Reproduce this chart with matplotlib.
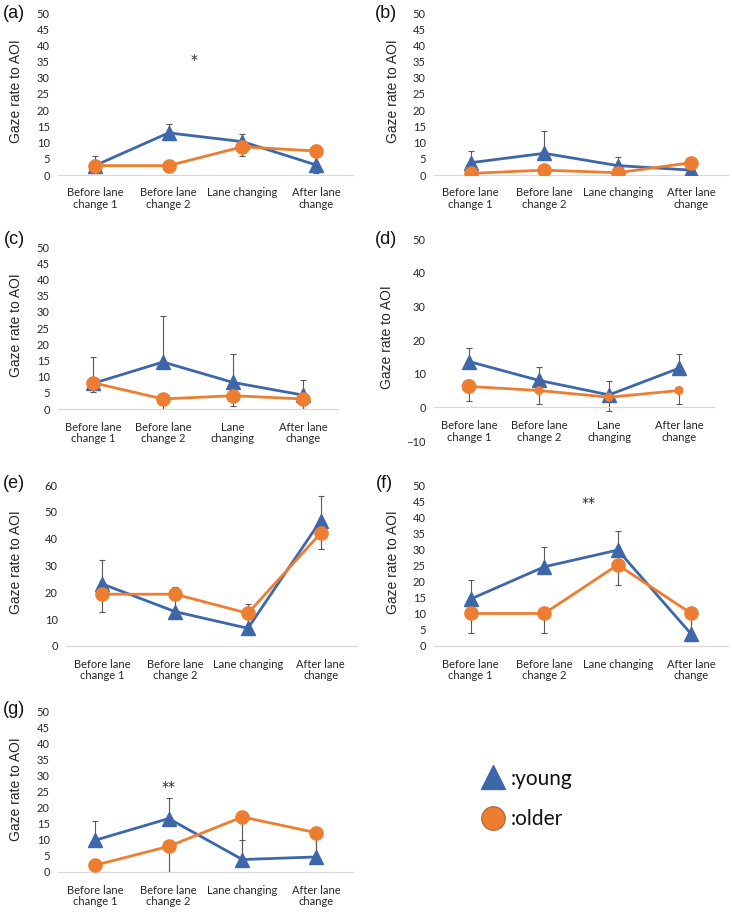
import numpy as np
import matplotlib
matplotlib.use("Agg")
import matplotlib.pyplot as plt
from matplotlib.lines import Line2D

W, H = 732, 913

# category labels (two versions used in the figure)
labels_wide = ["Before lane\nchange 1", "Before lane\nchange 2", "Lane changing", "After lane\nchange"]
labels_narrow = ["Before lane\nchange 1", "Before lane\nchange 2", "Lane\nchanging", "After lane\nchange"]

# young error bars only point up, older error bars only point down
# (a)
young_a = [2.9, 13.0, 10.3, 3.1]
young_err_a = [3.0, 2.7, 2.5, 6.1]
older_a = [2.9, 2.9, 8.7, 7.4]
older_err_a = [2.2, 0.0, 2.8, 6.7]
# (b)
young_b = [3.8, 6.7, 2.9, 1.5]
young_err_b = [3.7, 7.0, 2.7, 0.5]
older_b = [0.5, 1.5, 0.7, 3.8]
older_err_b = [0.0, 0.0, 0.0, 0.0]
# (c)
young_c = [7.9, 14.5, 8.2, 4.3]
young_err_c = [8.1, 14.3, 8.7, 4.5]
older_c = [8.1, 3.1, 4.1, 3.1]
older_err_c = [3.0, 3.1, 3.2, 3.1]
# (d)
young_d = [13.6, 8.0, 3.7, 11.6]
young_err_d = [4.1, 3.9, 4.1, 4.3]
older_d = [6.2, 5.0, 3.0, 5.0]
older_err_d = [4.3, 3.9, 4.2, 3.9]
# (e)
young_e = [23.1, 12.8, 6.6, 46.7]
young_err_e = [8.9, 9.3, 9.1, 9.2]
older_e = [19.3, 19.3, 12.2, 42.0]
older_err_e = [6.5, 6.5, 6.0, 6.0]
# (f)
young_f = [14.6, 24.6, 29.8, 3.7]
young_err_f = [6.0, 6.0, 6.0, 6.0]
older_f = [10.1, 10.1, 25.2, 10.1]
older_err_f = [6.2, 6.2, 6.3, 6.0]
# (g)
young_g = [9.9, 16.7, 3.9, 4.7]
young_err_g = [6.0, 6.4, 6.0, 6.0]
older_g = [2.1, 8.0, 17.2, 12.3]
older_err_g = [2.1, 8.0, 13.0, 7.5]

# significance marks: (x position in category units, y value, text)
signif_a = (1.35, 35.4, "*")
signif_f = (1.6, 44.5, "**")
signif_g = (1.0, 26.6, "**")

BLUE = "#3e67aa"
ORANGE = "#ed7d31"
ERR = "#595959"
TXT = "#262626"
TICKFONT = ["Lato", "DejaVu Sans"]
LABFONT = ["Liberation Sans", "DejaVu Sans"]

fig = plt.figure(figsize=(W / 100, H / 100), dpi=100)


def axes_px(left, top, right, bottom):
    return fig.add_axes([left / W, 1 - bottom / H, (right - left) / W, (bottom - top) / H])


def fig_text(x, y, s, **kw):
    fig.text(x / W, 1 - y / H, s, **kw)


panels = [
    # tag, young, yerr, older, oerr, labels, ylim, ystep, box(l,t,r,b), ylabel x, tag pos, signif
    ("(a)", young_a, young_err_a, older_a, older_err_a, labels_wide, (0, 50), 5, (58, 13, 353, 175), 16, (14, 13), signif_a),
    ("(b)", young_b, young_err_b, older_b, older_err_b, labels_wide, (0, 50), 5, (434, 13, 728, 175), 393, (386, 13), None),
    ("(c)", young_c, young_err_c, older_c, older_err_c, labels_narrow, (0, 50), 5, (58, 247, 338, 409), 16, (14, 240), None),
    ("(d)", young_d, young_err_d, older_d, older_err_d, labels_narrow, (-10, 50), 10, (434, 239, 714, 441), 387, (386, 239), None),
    ("(e)", young_e, young_err_e, older_e, older_err_e, labels_wide, (0, 60), 10, (66, 485, 357, 646), 16, (14, 483), None),
    ("(f)", young_f, young_err_f, older_f, older_err_f, labels_wide, (0, 50), 5, (434, 485, 728, 646), 393, (384, 483), signif_f),
    ("(g)", young_g, young_err_g, older_g, older_err_g, labels_wide, (0, 50), 5, (58, 712, 353, 872), 16, (14, 709), signif_g),
]

x = np.arange(4)
zeros = np.zeros(4)
for tag, young, yerr, older, oerr, labels, ylim, ystep, box, ylab_x, tag_pos, signif in panels:
    ax = axes_px(*box)
    for s in ["top", "right", "left"]:
        ax.spines[s].set_visible(False)
    ax.spines["bottom"].set_color("#d9d9d9")
    ax.spines["bottom"].set_linewidth(0.9)
    if ylim[0] < 0:
        ax.spines["bottom"].set_position(("data", 0))

    ax.errorbar(x, young, yerr=[zeros, yerr], fmt="none", ecolor=ERR, elinewidth=0.8, capsize=2.5, capthick=0.8, zorder=1)
    ax.errorbar(x, older, yerr=[oerr, zeros], fmt="none", ecolor=ERR, elinewidth=0.8, capsize=2.5, capthick=0.8, zorder=1)
    ax.plot(x, young, color=BLUE, lw=2, marker="^", ms=10, zorder=3)
    if tag == "(d)":
        # excel used a big marker only for the first older point here
        ax.plot(x, older, color=ORANGE, lw=2, zorder=4)
        ax.scatter(x, older, s=[95, 30, 30, 30], color=ORANGE, zorder=5)
    else:
        ax.plot(x, older, color=ORANGE, lw=2, marker="o", ms=9.5, zorder=4)

    ax.set_xlim(-0.5, 3.5)
    ax.set_ylim(*ylim)
    ax.set_yticks(np.arange(ylim[0], ylim[1] + 0.1, ystep))
    ax.set_xticks(x)
    ax.set_xticklabels(labels, fontsize=8, family=TICKFONT, color=TXT, linespacing=1.1)
    for t in ax.get_yticklabels():
        t.set_fontsize(8)
        t.set_family(TICKFONT)
        t.set_color(TXT)
    ax.tick_params(axis="both", length=0)
    ax.tick_params(axis="x", pad=9)
    ax.tick_params(axis="y", pad=6)
    ax.patch.set_alpha(0)

    if signif is not None:
        ax.text(signif[0], signif[1], signif[2], ha="center", va="center", fontsize=10, color=TXT)

    fig_text(ylab_x, (box[1] + box[3]) / 2 - 3, "Gaze rate to AOI", rotation=90, ha="center", va="center",
             fontsize=10, family=LABFONT, color=TXT)
    fig_text(tag_pos[0], tag_pos[1], tag, ha="center", va="center", fontsize=13, family=LABFONT, color="#111111")

handles = [
    Line2D([], [], ls="none", marker="^", ms=17, color=BLUE),
    Line2D([], [], ls="none", marker="o", ms=17, mfc=ORANGE, mec="#a5643c", mew=0.8),
]
fig.legend(handles=handles, labels=[":young", ":older"], loc="center left",
           bbox_to_anchor=(462 / W, 1 - 799 / H), frameon=False,
           prop={"family": TICKFONT, "size": 15}, handletextpad=0.25, labelspacing=1.0,
           handlelength=1.2, labelcolor="#111111")

fig.savefig("out.png", dpi=100)
